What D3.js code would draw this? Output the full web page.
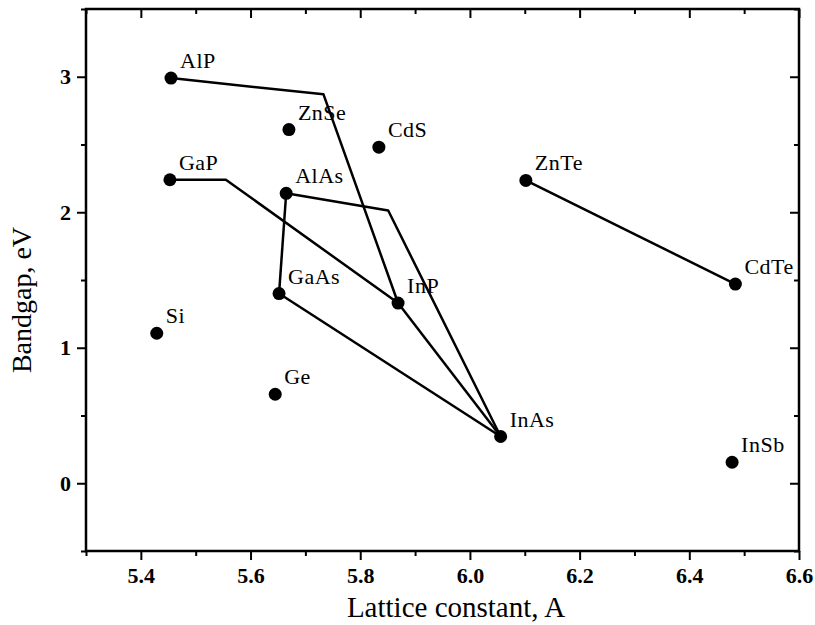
<!DOCTYPE html>
<html>
<head>
<meta charset="utf-8">
<script src="https://cdn.jsdelivr.net/npm/d3@7"></script>
<style>
  body { margin: 0; background: #fff; }
  svg text { font-family: "Liberation Serif", "Times New Roman", serif; fill: #000; }
  .axis path { display: none; }
  .axis line { stroke: #000; stroke-width: 2; }
</style>
</head>
<body>
<svg id="canvas"></svg>
<script>
// compounds: lattice constant (A) and bandgap (eV)
let compounds = ["AlP", "ZnSe", "CdS", "GaP", "AlAs", "ZnTe", "CdTe", "GaAs", "InP", "Si", "Ge", "InAs", "InSb"];
let lattice = [5.455, 5.670, 5.834, 5.453, 5.665, 6.102, 6.484, 5.652, 5.869, 5.429, 5.645, 6.056, 6.478];
let bandgap = [2.99, 2.61, 2.48, 2.24, 2.14, 2.235, 1.47, 1.40, 1.33, 1.107, 0.657, 0.345, 0.155];

// alloy lines (with bend points)
let lineX = [
  [5.455, 5.733, 5.869],
  [5.453, 5.555, 5.869],
  [5.665, 5.851, 6.056],
  [5.665, 5.652],
  [5.652, 6.056],
  [5.869, 6.056],
  [6.102, 6.484]
];
let lineY = [
  [2.99, 2.87, 1.33],
  [2.24, 2.24, 1.33],
  [2.14, 2.013, 0.345],
  [2.14, 1.40],
  [1.40, 0.345],
  [1.33, 0.345],
  [2.235, 1.47]
];

let xMajor = [5.4, 5.6, 5.8, 6.0, 6.2, 6.4, 6.6];
let xMinor = [5.3, 5.5, 5.7, 5.9, 6.1, 6.3, 6.5];
let yMajor = [0, 1, 2, 3];
let yMinor = [-0.5, 0.5, 1.5, 2.5, 3.5];

let width = 815;
let height = 625;
let padLeft = 86, padRight = 799, padTop = 9, padBottom = 551;

let canvas = d3.select("#canvas").attr("width", width).attr("height", height);

let xScale = d3.scaleLinear().domain([5.3, 6.6]).range([padLeft, padRight]);
let yScale = d3.scaleLinear().domain([-0.5, 3.5]).range([padBottom, padTop]);

let drawAxes = () => {
  let fmtX = d3.format(".1f");
  let fmtY = d3.format("d");

  // bottom
  canvas.append("g").attr("class", "axis x-major")
    .attr("transform", "translate(0," + padBottom + ")")
    .call(d3.axisBottom(xScale).tickValues(xMajor).tickFormat(fmtX).tickSize(9).tickPadding(7));
  canvas.append("g").attr("class", "axis")
    .attr("transform", "translate(0," + padBottom + ")")
    .call(d3.axisBottom(xScale).tickValues(xMinor).tickFormat("").tickSize(5));
  // top (inward)
  canvas.append("g").attr("class", "axis")
    .attr("transform", "translate(0," + padTop + ")")
    .call(d3.axisBottom(xScale).tickValues(xMajor).tickFormat("").tickSize(9));
  canvas.append("g").attr("class", "axis")
    .attr("transform", "translate(0," + padTop + ")")
    .call(d3.axisBottom(xScale).tickValues(xMinor).tickFormat("").tickSize(5));
  // left
  canvas.append("g").attr("class", "axis y-major")
    .attr("transform", "translate(" + padLeft + ",0)")
    .call(d3.axisLeft(yScale).tickValues(yMajor).tickFormat(fmtY).tickSize(9).tickPadding(6));
  canvas.append("g").attr("class", "axis")
    .attr("transform", "translate(" + padLeft + ",0)")
    .call(d3.axisLeft(yScale).tickValues(yMinor).tickFormat("").tickSize(5));
  // right (inward)
  canvas.append("g").attr("class", "axis")
    .attr("transform", "translate(" + padRight + ",0)")
    .call(d3.axisLeft(yScale).tickValues(yMajor).tickFormat("").tickSize(9));
  canvas.append("g").attr("class", "axis")
    .attr("transform", "translate(" + padRight + ",0)")
    .call(d3.axisLeft(yScale).tickValues(yMinor).tickFormat("").tickSize(5));

  canvas.selectAll(".x-major text, .y-major text")
    .style("font-size", "22px")
    .style("font-weight", "bold");

  // frame
  canvas.append("rect")
    .attr("x", padLeft).attr("y", padTop)
    .attr("width", padRight - padLeft).attr("height", padBottom - padTop)
    .attr("fill", "none").attr("stroke", "#000").attr("stroke-width", 2.5);

  canvas.append("text")
    .attr("x", 456).attr("y", 617)
    .attr("text-anchor", "middle")
    .style("font-size", "29px")
    .text("Lattice constant, A");

  canvas.append("text")
    .attr("transform", "translate(31,300) rotate(-90)")
    .attr("text-anchor", "middle")
    .style("font-size", "28px")
    .text("Bandgap, eV");
};

let drawLines = () => {
  let line = d3.line().x((d) => xScale(d[0])).y((d) => yScale(d[1]));
  lineX.forEach((xs, i) => {
    let pts = xs.map((x, j) => [x, lineY[i][j]]);
    canvas.append("path")
      .attr("d", line(pts))
      .attr("fill", "none")
      .attr("stroke", "#000")
      .attr("stroke-width", 2.5)
      .attr("stroke-linejoin", "round");
  });
};

let drawPoints = () => {
  let pts = compounds.map((c, i) => ({ name: c, x: lattice[i], y: bandgap[i] }));
  canvas.selectAll("circle.pt")
    .data(pts)
    .enter()
    .append("circle")
    .attr("class", "pt")
    .attr("cx", (d) => xScale(d.x))
    .attr("cy", (d) => yScale(d.y))
    .attr("r", 6.5)
    .attr("fill", "#000");

  canvas.selectAll("text.lbl")
    .data(pts)
    .enter()
    .append("text")
    .attr("class", "lbl")
    .attr("x", (d) => xScale(d.x) + 9)
    .attr("y", (d) => yScale(d.y) - 10)
    .style("font-size", "22px")
    .style("letter-spacing", "0.5px")
    .text((d) => d.name);
};

drawLines();
drawPoints();
drawAxes();
</script>
</body>
</html>
